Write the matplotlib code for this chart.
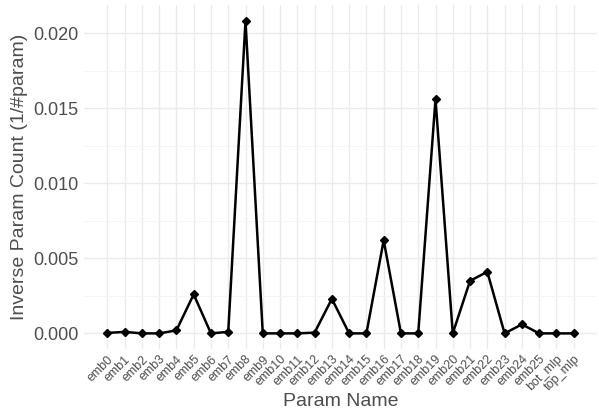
import matplotlib
matplotlib.use('Agg')
import matplotlib.pyplot as plt
import numpy as np
from matplotlib.ticker import MultipleLocator

params = ['emb%d' % i for i in range(26)] + ['bot_mlp', 'top_mlp']
inv_count = [0.00003, 0.0001, 0.0, 0.0, 0.0002, 0.0026, 0.0, 0.0001,
             0.0208, 0.0, 0.0, 0.0, 0.00005, 0.0023, 0.0, 0.0,
             0.0062, 0.0, 0.0, 0.0156, 0.0, 0.0035, 0.0041, 0.0,
             0.0006, 0.0, 0.0, 0.0]

plt.rcParams['font.family'] = ['Liberation Sans', 'DejaVu Sans']

fig = plt.figure(figsize=(5.99, 4.11), dpi=100)
ax = fig.add_axes([84/599, 1 - 349/411, (597 - 84)/599, (349 - 5)/411])

x = np.arange(len(params))
ax.plot(x, inv_count, color='black', lw=1.8, marker='D', ms=4.5, zorder=3)

ax.set_xlim(-1.35, len(params) - 1 + 1.35)
ax.set_ylim(-0.00104, 0.02187)
ax.yaxis.set_minor_locator(MultipleLocator(0.0025))
ax.set_yticks([0, 0.005, 0.01, 0.015, 0.02])
ax.set_yticklabels(['0.000', '0.005', '0.010', '0.015', '0.020'])
ax.set_xticks(x)
ax.set_xticklabels(params, rotation=45, ha='right', rotation_mode='anchor')

ax.grid(which='major', color='#EBEBEB', lw=1.0)
ax.grid(which='minor', axis='y', color='#F4F4F4', lw=0.6)
ax.set_axisbelow(True)
for s in ax.spines.values():
    s.set_visible(False)
ax.tick_params(which='both', length=0)
ax.tick_params(axis='y', labelsize=13, labelcolor='#4D4D4D', pad=4)
ax.tick_params(axis='x', labelsize=9, labelcolor='#4D4D4D', pad=3)

ax.set_xlabel('Param Name', fontsize=14, color='#4D4D4D', labelpad=0)
ax.set_ylabel('Inverse Param Count (1/#param)', fontsize=14, color='#4D4D4D', labelpad=4)

fig.savefig('out.png', dpi=100)
